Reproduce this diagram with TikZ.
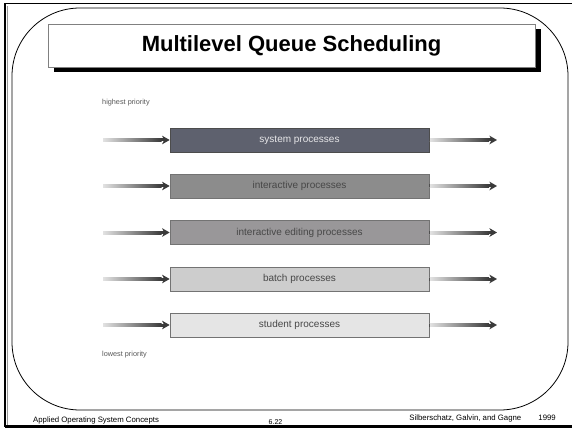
\documentclass[tikz,border=0pt]{standalone}
\usepackage{fontspec}
\setmainfont{Liberation Sans}
\usetikzlibrary{arrows.meta,calc}
\definecolor{cA}{HTML}{5E616E}
\definecolor{cB}{HTML}{8C8C8C}
\definecolor{cC}{HTML}{999799}
\definecolor{cD}{HTML}{CDCDCD}
\definecolor{cE}{HTML}{E5E5E5}
\definecolor{arrdark}{HTML}{3A3A3A}
\definecolor{arrlight}{HTML}{E2E2E2}
\tikzset{
  qbar/.style={draw=black!55, line width=0.7pt, minimum width=259pt, minimum height=24pt, inner sep=0pt, font=\fontsize{10}{11}\selectfont, text=black!72},
  flow/.style={draw=arrdark, line width=3pt, -{Stealth[length=7.5pt,width=8.5pt,inset=2pt]}},
  plabel/.style={font=\fontsize{7.3}{8}\selectfont, text=black!65, anchor=west, inner sep=0pt},
  foot/.style={font=\fontsize{7.8}{9}\selectfont, inner sep=0pt}
}
\begin{document}
\begin{tikzpicture}[x=1pt,y=-1pt]
\useasboundingbox (0,0) rectangle (572,430);
\fill[white] (0,0) rectangle (572,430);
% outer frame
\draw[black, line width=2.2pt] (5,3.5) -- (5,426.5);
\draw[black, line width=2.2pt] (5,426.5) -- (580,426.5);
\draw[black, line width=1.4pt] (5,3.5) -- (580,3.5);
\draw[black!40, line width=0.6pt] (7.5,6) -- (7.5,424.5);
% rounded panel
\draw[black, line width=0.8pt, rounded corners=68pt] (12,8) rectangle (568,410);
% title box
\fill[black] (54,29) rectangle (541,72);
\draw[black!50, fill=white, line width=0.8pt] (48,24) rectangle (535,67);
\node[font=\bfseries\fontsize{22}{24}\selectfont, inner sep=0pt] (title) at (291.5,46) {Multilevel Queue Scheduling};
% priority labels
\node[plabel] (hp) at (102,103) {highest priority};
\node[plabel] (lp) at (102,355) {lowest priority};
% bars
\node[qbar, fill=cA, draw=black!70, text=white!85!cA] (b1) at (299.5,140) {system processes};
\node[qbar, fill=cB] (b2) at (299.5,186) {interactive processes};
\node[qbar, fill=cC] (b3) at (299.5,232.5) {interactive editing processes};
\node[qbar, fill=cD] (b4) at (299.5,279) {batch processes};
\node[qbar, fill=cE] (b5) at (299.5,325) {student processes};
\foreach \i/\y in {1/140,2/186,3/232.5,4/279,5/325}{
  \coordinate (in\i) at (103,\y);
  \coordinate (out\i) at (497,\y);
  \draw[flow] (in\i) -- (b\i.west);
  \shade[left color=arrlight, right color=arrdark] ($(in\i)+(0,-1.5)$) rectangle ($(b\i.west)+(-8,1.5)$);
  \draw[flow] (b\i.east) -- (out\i);
  \shade[left color=arrlight, right color=arrdark] ($(b\i.east)+(0.5,-1.5)$) rectangle ($(out\i)+(-8,1.5)$);
}
% footer
\node[foot, anchor=west] (f1) at (33,420) {Applied Operating System Concepts};
\node[foot, font=\fontsize{7}{8}\selectfont] (f2) at (275.5,422) {6.22};
\node[foot, anchor=east] (f3) at (556,418) {Silberschatz, Galvin, and Gagne\hspace{2.2em}1999};
\end{tikzpicture}
\end{document}
